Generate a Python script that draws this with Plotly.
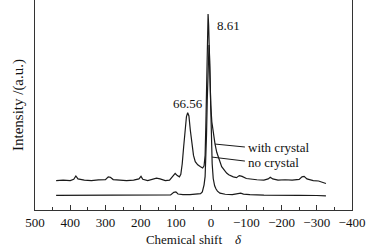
import plotly.graph_objects as go

# "with crystal" spectrum (chemical shift, intensity a.u.)
with_x = [440, 420, 400, 390, 384, 378, 360, 340, 320, 300, 292, 286, 278, 260, 240, 220, 205, 199, 194,
          180, 165, 155, 145, 130, 118, 110, 102, 96, 90, 86, 82, 78, 74, 70, 66.5, 63, 59, 55, 50, 45,
          38, 30, 24, 20, 17, 15, 13, 11, 9, 8.6, 7, 5, 3, 1, -2, -6, -11, -16, -22, -30, -44, -50, -63,
          -72, -80, -88, -100, -115, -130, -150, -162, -168, -175, -190, -210, -230, -250, -258, -264,
          -272, -290, -305, -315, -326]
with_y = [14.0, 14.2, 14.0, 14.6, 16.2, 14.8, 14.2, 14.0, 14.3, 14.4, 15.8, 15.6, 14.5, 14.2, 14.0, 14.2,
          14.8, 16.0, 14.6, 14.0, 14.8, 15.2, 14.8, 14.0, 14.2, 15.6, 17.4, 16.4, 15.8, 17.0, 22.0, 30.0,
          38.5, 44.5, 46.3, 44.8, 38.0, 31.0, 26.0, 23.0, 21.5, 20.6, 20.0, 21.0, 26, 40, 60, 80, 92, 93.3,
          88, 75, 60, 50, 42, 36, 31.5, 27.5, 24, 20.6, 17.6, 16.8, 15.8, 15.4, 16.4, 16.0, 15.0, 14.6,
          14.4, 14.2, 14.8, 15.6, 14.8, 14.2, 14.4, 14.2, 14.6, 15.8, 16.0, 14.8, 14.0, 13.8, 13.2, 12.6]

# "no crystal" spectrum
no_x = [440, 400, 350, 300, 250, 200, 150, 115, 106, 100, 94, 80, 60, 40, 30, 25, 22, 20, 17, 15, 13, 11,
        9, 7, 6, 5, 3, 1, -1, -3, -6, -10, -14, -18, -25, -40, -60, -78, -84, -92, -110, -150, -200, -250,
        -300, -326]
no_y = [7.0, 7.0, 7.1, 7.0, 7.1, 7.0, 7.1, 7.2, 8.4, 8.6, 7.6, 7.3, 7.3, 7.4, 7.8, 8.6, 10, 12, 16, 24, 36,
        52, 68, 77, 78.6, 76, 62, 46, 32, 22, 15, 11.5, 10, 9.0, 8.0, 7.5, 7.3, 7.6, 8.0, 7.6, 7.3, 7.1,
        7.2, 7.0, 6.9, 6.7]

x_ticks = [500, 400, 300, 200, 100, 0, -100, -200, -300, -400]

FONT = "Liberation Serif"
LC = "#1a1a1a"

fig = go.Figure()
fig.add_trace(go.Scatter(x=with_x, y=with_y, mode="lines", line=dict(color=LC, width=1.2), showlegend=False))
fig.add_trace(go.Scatter(x=no_x, y=no_y, mode="lines", line=dict(color=LC, width=1.2), showlegend=False))

fig.update_layout(
    width=372, height=252,
    margin=dict(l=35, r=20, t=0, b=42),
    paper_bgcolor="white", plot_bgcolor="white",
    font=dict(family=FONT, size=13, color="#111"),
    xaxis=dict(range=[500, -400], tickvals=x_ticks, ticktext=[str(v).replace("-", "\u2212") for v in x_ticks],
               ticks="inside", ticklen=5, tickcolor="#333", showline=True, linecolor="#333", linewidth=1,
               mirror=False, showgrid=False, zeroline=False,
               minor=dict(ticks="inside", ticklen=3, dtick=50, tickcolor="#333", showgrid=False),
               tickfont=dict(size=13),
               title=dict(text="Chemical shift    <i>δ</i>", font=dict(size=13), standoff=6)),
    yaxis=dict(range=[0, 100], showticklabels=False, ticks="", showline=True, linecolor="#333", linewidth=1,
               mirror=True, showgrid=False, zeroline=False,
               title=dict(text="Intensity /(a.u.)", font=dict(size=15), standoff=6)),
)

fig.add_annotation(x=-12, y=88, text="8.61", showarrow=False, xanchor="left", font=dict(size=13))
fig.add_annotation(x=67, y=50.5, text="66.56", showarrow=False, font=dict(size=13))
fig.add_annotation(x=-99, y=30, text="with crystal", showarrow=False, xanchor="left", font=dict(size=13))
fig.add_annotation(x=-99, y=22.6, text="no crystal", showarrow=False, xanchor="left", font=dict(size=13))
fig.add_shape(type="line", x0=-11, y0=31.4, x1=-96, y1=30, line=dict(color=LC, width=1))
fig.add_shape(type="line", x0=-2.5, y0=25.2, x1=-96, y1=23.3, line=dict(color=LC, width=1))

fig.write_html("out.html", config={"displayModeBar": False},
               post_script="document.body.style.margin='0';")
